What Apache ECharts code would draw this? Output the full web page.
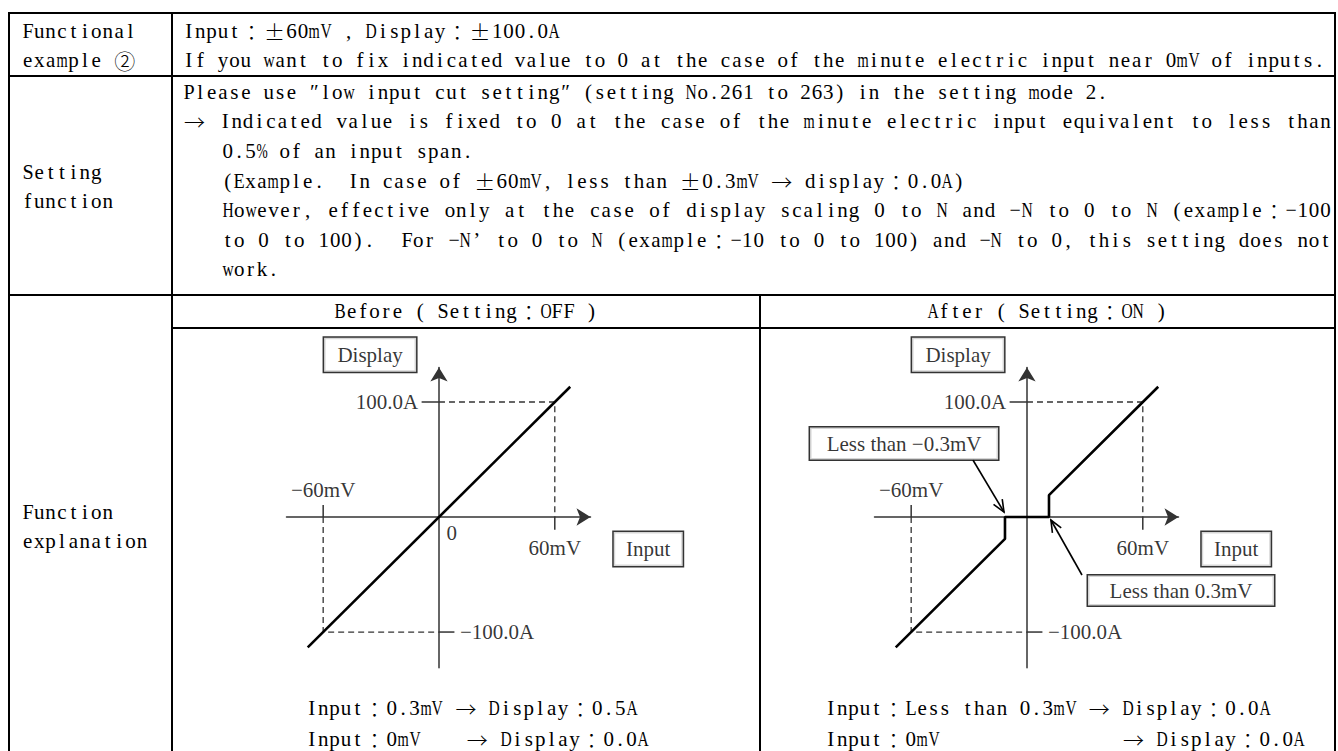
<!DOCTYPE html>
<html>
<head>
<meta charset="utf-8">
<script src="https://cdn.jsdelivr.net/npm/echarts@6/dist/echarts.min.js"></script>
<style>
body{margin:0;background:#fff;}
#page{position:relative;width:1338px;height:751px;overflow:hidden;background:#fff;
  font-family:"Liberation Serif","DejaVu Serif","Noto Sans CJK JP",serif;font-size:21px;color:#000;}
.hl{position:absolute;height:2px;background:#000;}
.vl{position:absolute;width:2px;background:#000;}
.t{position:absolute;white-space:pre;line-height:22px;height:22px;z-index:2;}
.cell{display:inline-block;position:relative;height:22px;vertical-align:top;}
.cell > span{position:absolute;left:50%;top:0;line-height:22px;white-space:pre;}
.cell.fw > span{font-family:"Noto Sans CJK JP";font-weight:300;}
.chart{position:absolute;top:329px;height:422px;}
</style>
</head>
<body>
<div id="page">
  <!-- table frame -->
  <div class="hl" style="left:8px;top:12px;width:1328px"></div>
  <div class="hl" style="left:8px;top:75px;width:1328px"></div>
  <div class="hl" style="left:8px;top:294px;width:1328px"></div>
  <div class="hl" style="left:171px;top:327px;width:1165px"></div>
  <div class="vl" style="left:8px;top:12px;height:760px"></div>
  <div class="vl" style="left:171px;top:12px;height:760px"></div>
  <div class="vl" style="left:1334px;top:12px;height:760px"></div>
  <div class="vl" style="left:759px;top:294px;height:470px"></div>

  <!-- row 1 -->
  <div class="t" style="left:22px;top:20px">Functional</div>
  <div class="t" style="left:22px;top:49px">example ②</div>
  <div class="t" style="left:183px;top:20px">Input：±60mV , Display：±100.0A</div>
  <div class="t" style="left:183px;top:49px">If you want to fix indicated value to 0 at the case of the minute electric input near 0mV of inputs.</div>

  <!-- row 2 -->
  <div class="t" style="left:22px;top:161px">Setting</div>
  <div class="t" style="left:22px;top:190px">function</div>
  <div class="t" style="left:183px;top:81px">Please use ″low input cut setting″ (setting No.261 to 263) in the setting mode 2.</div>
  <div class="t" data-w="1149" style="left:183px;top:110px">→ Indicated value is fixed to 0 at the case of the minute electric input equivalent to less than</div>
  <div class="t" style="left:222px;top:140px">0.5% of an input span.</div>
  <div class="t" style="left:222px;top:170px">(Example.  In case of ±60mV, less than ±0.3mV → display：0.0A)</div>
  <div class="t" data-w="1110" style="left:222px;top:199px">However, effective only at the case of display scaling 0 to N and −N to 0 to N (example：−100</div>
  <div class="t" data-w="1110" style="left:222px;top:229px">to 0 to 100).  For −N’ to 0 to N (example：−10 to 0 to 100) and −N to 0, this setting does not</div>
  <div class="t" style="left:222px;top:258px">work.</div>

  <!-- row 3 -->
  <div class="t" data-center="466" style="top:300px">Before ( Setting：OFF )</div>
  <div class="t" data-center="1047" style="top:300px">After ( Setting：ON )</div>
  <div class="t" style="left:22px;top:501px">Function</div>
  <div class="t" style="left:22px;top:530px">explanation</div>

  <div id="beforeChart" class="chart" style="left:173px;width:586px"></div>
  <div id="afterChart" class="chart" style="left:761px;width:573px"></div>

  <div class="t" style="left:306px;top:697px">Input：0.3mV → Display：0.5A</div>
  <div class="t" style="left:306px;top:728px">Input：0mV    → Display：0.0A</div>
  <div class="t" style="left:825px;top:697px">Input：Less than 0.3mV → Display：0.0A</div>
  <div class="t" style="left:825px;top:728px">Input：0mV                → Display：0.0A</div>
</div>

<script>
const FONT = 'Liberation Serif';
const FONT_SIZE = 21;
const PITCH = 11.43;          // half-width cell
const WIDE = /[：±→②]/;

// axis extents (mV / A)
let xExtent = [-79, 78.5];
let yExtent = [-131, 130];

// characteristic lines
let beforeLine = [[-68, -113.3], [68, 113.3]];
let afterLine = [[-68, -113.3], [-11.4, -19], [-11.4, 0], [11.4, 0], [11.4, 19], [68, 113.3]];

// dashed guides to the span ends
let guideLow = [[-60, 0], [-60, -100], [0, -100]];
let guideHigh = [[0, 100], [60, 100], [60, 0]];

// short solid ticks
let tickSegs = [
    [[-60, 0], [-60, 10.5]],
    [[60, 0], [60, -11]],
    [[-9, 100], [0, 100]],
    [[0, -100], [8, -100]]
];

// tick labels and where they hang
let tickLabels = ['−60mV', '60mV', '100.0A', '−100.0A'];
let tickLabelAt = [[-60, 10.5], [60, -11], [-9, 100], [8, -100]];

// boxed names
let boxTexts = ['Display', 'Input'];
let boxAt = [[-35.7, 141], [108.4, -27.8]];

// callouts (after chart only)
let calloutTexts = ['Less than −0.3mV', 'Less than 0.3mV'];
let calloutAt = [[-63.7, 63.9], [79.8, -63.9]];
let calloutArrows = [
    [[-28, 49.6], [-11.9, 4.3]],
    [[28.5, -50.4], [12.4, -2.6]]
];

// lay the table text out in fixed cells, like the original mincho face
let meas = document.createElement('canvas').getContext('2d');
meas.font = FONT_SIZE + 'px "' + FONT + '"';
document.querySelectorAll('.t').forEach(function (el) {
    let chars = Array.from(el.textContent);
    let units = 0, spaces = 0;
    chars.forEach(function (c) {
        units += WIDE.test(c) ? 2 : 1;
        if (c === ' ') spaces++;
    });
    let extra = el.dataset.w ? (el.dataset.w - units * PITCH) / spaces : 0;
    el.innerHTML = chars.map(function (c) {
        let wide = WIDE.test(c);
        let w = (wide ? 2 : 1) * PITCH + (c === ' ' ? extra : 0);
        if (c === ' ') return '<span class="cell" style="width:' + w + 'px"></span>';
        let k = 1;
        let gw = meas.measureText(c).width;
        if (!wide && gw > PITCH * 0.98) k = PITCH * 0.98 / gw;
        return '<span class="cell' + (wide ? ' fw' : '') + '" style="width:' + w + 'px"><span style="transform:translateX(-50%) scaleX(' +
            k.toFixed(3) + ')">' + c + '</span></span>';
    }).join('');
    if (el.dataset.center) {
        el.style.left = (el.dataset.center - units * PITCH / 2) + 'px';
    }
});

function segSeries(points, dashed, width) {
    return {
        type: 'line',
        data: points,
        symbol: 'none',
        silent: true,
        clip: false,
        z: 3,
        lineStyle: {color: '#333', width: width, type: dashed ? [6, 4] : 'solid'}
    };
}

// box sizes [w, h] in px
let boxSize = {'Display': [92, 34], 'Input': [69, 34], 'Less than −0.3mV': [188, 32], 'Less than 0.3mV': [186, 30]};

function boxLabel(text, at) {
    let s = boxSize[text];
    return {
        value: at,
        label: {
            show: true, position: 'inside',
            formatter: '{b|' + text + '}',
            rich: {
                b: {
                    width: s[0], height: s[1], lineHeight: s[1], align: 'center', verticalAlign: 'middle',
                    borderColor: '#000', borderWidth: 1.5, backgroundColor: '#fff',
                    fontFamily: FONT, fontSize: FONT_SIZE, color: '#000'
                }
            }
        }
    };
}

function buildChart(dom, lineData, withZero, withCallouts) {
    let chart = echarts.init(dom, null, {renderer: 'svg'});
    let series = [];

    series.push(segSeries(guideLow, true, 1.3));
    series.push(segSeries(guideHigh, true, 1.3));
    tickSegs.forEach(function (s) {
        series.push(segSeries(s, false, 1.5));
    });

    series.push({
        type: 'line',
        data: lineData,
        symbol: 'none',
        silent: true,
        z: 5,
        lineStyle: {color: '#000', width: 2.6}
    });

    let pos = ['top', 'bottom', 'left', 'right'];
    let dist = [4, 7, 3, 5];
    let labelItems = tickLabels.map(function (t, i) {
        return {value: tickLabelAt[i], label: {show: true, formatter: t, position: pos[i], distance: dist[i]}};
    });
    if (withZero) {
        labelItems.push({value: [0, 0], label: {show: true, formatter: '0', position: [8, 6]}});
    }
    boxTexts.forEach(function (t, i) {
        labelItems.push(boxLabel(t, boxAt[i]));
    });
    if (withCallouts) {
        calloutTexts.forEach(function (t, i) {
            labelItems.push(boxLabel(t, calloutAt[i]));
        });
        series.push({
            type: 'custom',
            coordinateSystem: 'cartesian2d',
            clip: false,
            silent: true,
            z: 6,
            data: calloutArrows.map(function (a) { return [a[0][0], a[0][1], a[1][0], a[1][1]]; }),
            encode: {x: [0, 2], y: [1, 3]},
            renderItem: function (params, api) {
                let p0 = api.coord([api.value(0), api.value(1)]);
                let p1 = api.coord([api.value(2), api.value(3)]);
                let ang = Math.atan2(p1[1] - p0[1], p1[0] - p0[0]);
                let len = 13, spread = 0.4;
                let w1 = [p1[0] - len * Math.cos(ang - spread), p1[1] - len * Math.sin(ang - spread)];
                let w2 = [p1[0] - len * Math.cos(ang + spread), p1[1] - len * Math.sin(ang + spread)];
                return {
                    type: 'group',
                    children: [
                        {type: 'line', shape: {x1: p0[0], y1: p0[1], x2: p1[0], y2: p1[1]},
                            style: {stroke: '#000', lineWidth: 1.6}},
                        {type: 'polyline', shape: {points: [w1, p1, w2]},
                            style: {stroke: '#000', lineWidth: 1.6, fill: null}}
                    ]
                };
            }
        });
    }

    series.push({
        type: 'scatter',
        symbolSize: 1,
        clip: false,
        silent: true,
        z: 10,
        itemStyle: {color: 'transparent'},
        label: {color: '#000', fontFamily: FONT, fontSize: FONT_SIZE},
        data: labelItems
    });

    let axisLine = {
        show: true, onZero: true,
        symbol: ['none', 'arrow'], symbolSize: [13, 14],
        lineStyle: {color: '#333', width: 1.5}
    };

    chart.setOption({
        animation: false,
        grid: {left: 113.5, top: 38.5, width: 304, height: 300.2},
        xAxis: {
            type: 'value', min: xExtent[0], max: xExtent[1],
            axisLine: axisLine, axisTick: {show: false},
            axisLabel: {show: false}, splitLine: {show: false}
        },
        yAxis: {
            type: 'value', min: yExtent[0], max: yExtent[1],
            axisLine: axisLine, axisTick: {show: false},
            axisLabel: {show: false}, splitLine: {show: false}
        },
        series: series
    });
    return chart;
}

buildChart(document.getElementById('beforeChart'), beforeLine, true, false);
buildChart(document.getElementById('afterChart'), afterLine, false, true);
</script>
</body>
</html>
